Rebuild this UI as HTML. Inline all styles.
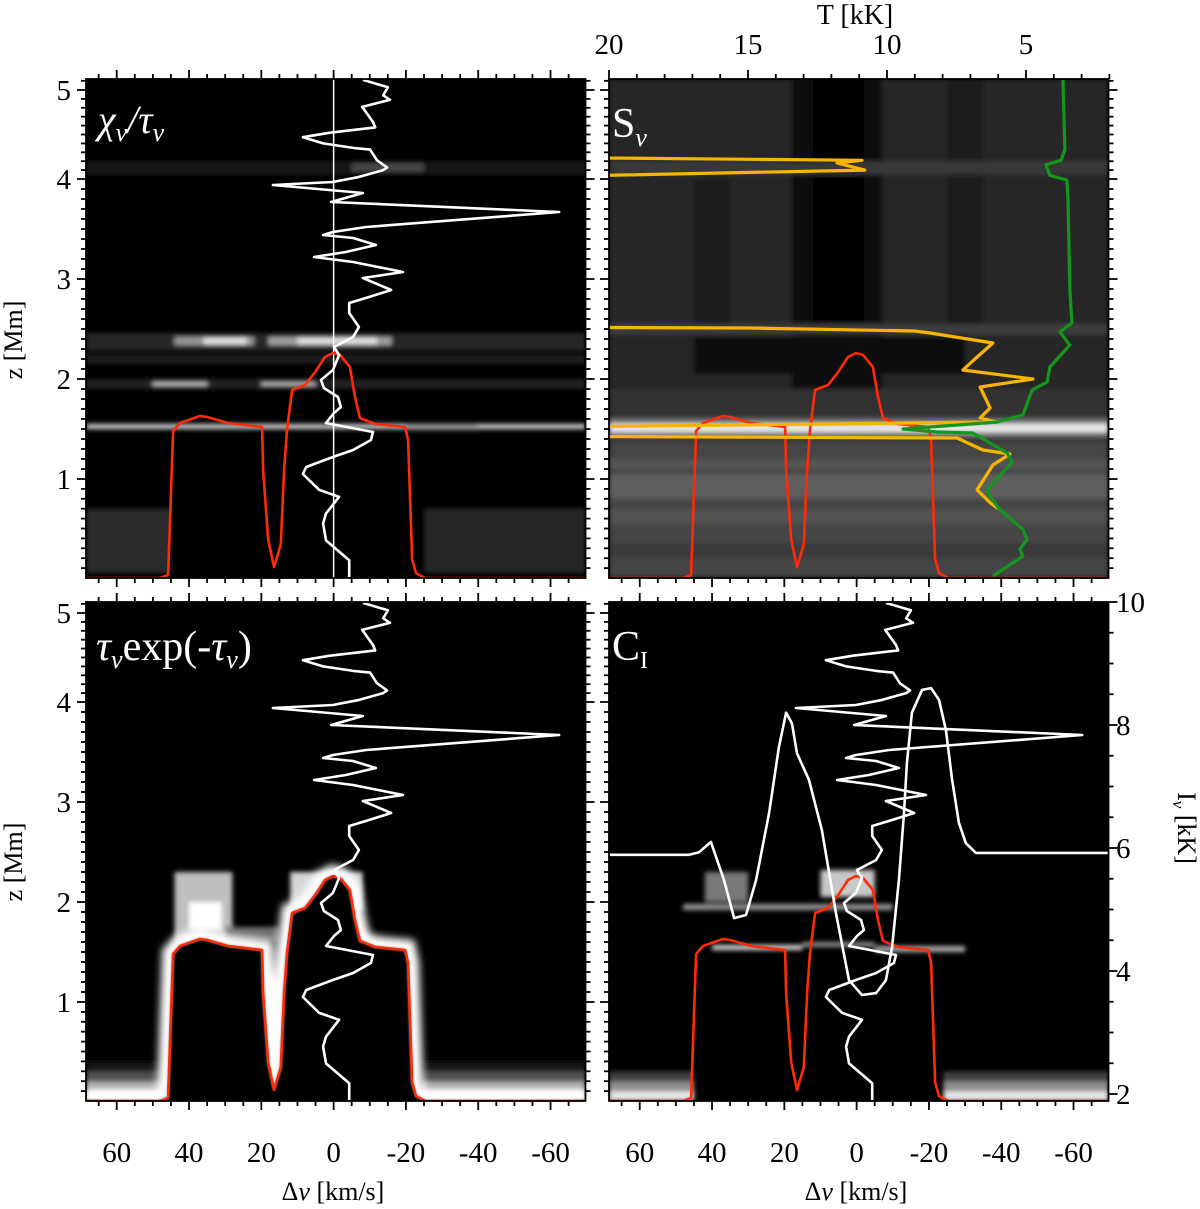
<!DOCTYPE html>
<html><head><meta charset="utf-8">
<style>
html,body{margin:0;padding:0;background:#fff;}
svg{display:block;font-family:"Liberation Serif","DejaVu Serif",serif;}
</style></head>
<body>
<svg id="fig" width="1200" height="1209" viewBox="0 0 1200 1209" xmlns="http://www.w3.org/2000/svg">
<defs>
<filter id="blur3" x="-5%" y="-5%" width="110%" height="110%"><feGaussianBlur stdDeviation="2.5"/></filter>
<filter id="blur5" x="-10%" y="-10%" width="120%" height="120%"><feGaussianBlur stdDeviation="4"/></filter>
<filter id="blur2"><feGaussianBlur stdDeviation="1.5"/></filter>
<clipPath id="clip-tl"><rect x="86" y="79" width="499.5" height="499"/></clipPath>
<clipPath id="clip-tr"><rect x="609" y="79" width="499.5" height="499"/></clipPath>
<clipPath id="clip-bl"><rect x="86" y="602" width="499.5" height="499"/></clipPath>
<clipPath id="clip-br"><rect x="609" y="602" width="499.5" height="499"/></clipPath>
</defs>
<g id="layer-heat"></g>
<g id="layer-lines"></g>
<g id="layer-axes"></g>
<text x="98" y="133" fill="#fff" font-size="40" font-style="italic">χ<tspan font-size="26" dy="8">ν</tspan><tspan dy="-8">/τ</tspan><tspan font-size="26" dy="8">ν</tspan></text>
<text x="612" y="137" fill="#fff" font-size="42">S<tspan font-size="26" font-style="italic" dy="9">ν</tspan></text>
<text x="96" y="660" fill="#fff" font-size="42"><tspan font-style="italic">τ</tspan><tspan font-size="26" font-style="italic" dy="8">ν</tspan><tspan dy="-8">exp(-</tspan><tspan font-style="italic">τ</tspan><tspan font-size="26" font-style="italic" dy="8">ν</tspan><tspan dy="-8">)</tspan></text>
<text x="612" y="660" fill="#fff" font-size="42">C<tspan font-size="24" dy="8">I</tspan></text>
<text x="855" y="24" font-size="28" text-anchor="middle">T [kK]</text>
<text x="333" y="1200" font-size="26" text-anchor="middle">Δ<tspan font-style="italic">ν</tspan> [km/s]</text>
<text x="856" y="1200" font-size="26" text-anchor="middle">Δ<tspan font-style="italic">ν</tspan> [km/s]</text>
<text transform="translate(22,340) rotate(-90)" font-size="26" text-anchor="middle">z [Mm]</text>
<text transform="translate(22,862) rotate(-90)" font-size="26" text-anchor="middle">z [Mm]</text>
<text transform="translate(1178,828) rotate(90)" font-size="26" text-anchor="middle">I<tspan font-size="17" font-style="italic" dy="5">ν</tspan><tspan dy="-5"> [kK]</tspan></text>
</svg>
<script>
// ---------------- data ----------------
const redDv = [68.5,48,45.8,44.4,42.5,37.0,35.0,29.2,19.8,19.5,18.1,16.5,14.6,13.7,12.9,11.5,7.9,5.1,2.4,0.2,-1.8,-4.5,-5.9,-7.3,-11.5,-19.8,-20.6,-21.7,-22.8,-25.3,-69.7];
const redZ  = [0,0,0.03,1.48,1.56,1.63,1.62,1.56,1.52,1.09,0.39,0.11,0.34,1.09,1.49,1.89,1.94,2.07,2.22,2.26,2.24,2.12,1.82,1.61,1.55,1.52,1.39,0.19,0.05,0,0];
const velDv = [-8.1,-15.0,-13.7,-15.6,-7.9,-10.9,-11.5,1.0,8.5,2.9,-5.4,-10.1,-12.0,-14.8,-13.7,-6.7,0.2,16.8,-8.1,0.7,-62.4,-9.0,0.2,2.9,-5.4,-11.7,-3.4,5.4,-5.4,-19.2,-8.1,-15.9,-9.8,-4.3,-4.3,-7.0,-5.4,-0.1,-1.5,0.2,3.5,2.7,-1.2,-2.0,-0.1,2.1,-10.9,-10.3,-5.4,0.2,7.6,8.5,4.0,-1.5,2.1,2.9,2.1,-4.3,-4.3];
const velZ  = [5.11,5.03,4.94,4.89,4.81,4.64,4.58,4.52,4.47,4.40,4.35,4.33,4.21,4.13,4.10,4.02,3.97,3.94,3.86,3.77,3.67,3.52,3.47,3.44,3.41,3.34,3.27,3.22,3.17,3.07,3.01,2.89,2.82,2.76,2.66,2.52,2.42,2.32,2.24,2.09,1.99,1.91,1.82,1.72,1.66,1.56,1.47,1.39,1.29,1.22,1.12,1.05,0.89,0.82,0.65,0.55,0.38,0.18,0.01];
const tempT = [3.67,3.60,3.74,4.28,4.14,3.53,3.49,3.42,3.35,3.78,3.42,4.14,4.24,4.78,5.11,6.04,7.48,9.42,8.20,6.91,5.68,5.50,6.40,6.29,5.94,5.11,4.96,5.22,5.11,6.19];
const tempZ = [5.11,4.33,4.21,4.16,4.04,3.99,3.79,2.89,2.56,2.47,2.34,2.12,1.97,1.89,1.64,1.57,1.54,1.50,1.47,1.46,1.26,1.17,0.89,0.82,0.69,0.49,0.39,0.29,0.22,0.02];
const srcT = [25,10.9,11.8,10.8,25,25,15,9,8.45,6.19,6.76,7.27,4.75,6.65,6.29,6.65,6.04,25,25,7.48,6.55,5.58,6.19,6.76,6.29,6.0];
const srcZ = [4.25,4.21,4.18,4.10,4.01,2.52,2.51,2.48,2.46,2.36,2.22,2.09,2.0,1.92,1.71,1.61,1.57,1.51,1.43,1.41,1.29,1.25,1.14,0.89,0.76,0.70];
const intDv = [68.5,46.3,43.6,40.3,36.7,33.9,30.6,27.8,24.2,21.5,19.5,17.9,16.5,13.2,9.6,5.7,2.1,-1.5,-5.4,-8.1,-9.8,-11.7,-13.1,-13.9,-15.3,-18.1,-20.6,-22.8,-24.7,-26.4,-28.3,-30.2,-33.0,-69.7];
const intI  = [5.89,5.89,5.93,6.10,5.48,4.86,4.91,5.48,6.57,7.64,8.20,8.03,7.54,7.11,6.29,4.94,3.85,3.61,3.64,3.85,4.39,5.48,6.57,7.38,8.20,8.57,8.60,8.41,7.92,7.11,6.41,6.08,5.92,5.92];
const cellsTL = [[68.5,-69.7,4.05,4.2,25],[-5,-25,4.08,4.18,70],[68.5,-69.7,2.28,2.46,38],[44,22,2.34,2.42,150],[36,24,2.35,2.41,230],[18,-16,2.34,2.42,160],[10,-12,2.35,2.41,230],[68.5,-69.7,2.15,2.25,30],[68.5,-69.7,1.9,2.0,35],[50,35,1.93,1.97,190],[20,5,1.93,1.97,180],[68.5,-69.7,1.5,1.55,210],[-20,-40,1.49,1.54,150],[68.5,45,0.05,0.7,42],[-25,-69.7,0.05,0.7,38]];
const cellsTR = [[68.5,-69.7,0,5.12,40],[18,-7,1.6,5.12,10],[12,-2,2.5,5.12,2],[-25,-35,2.5,5.12,28],[45,35,2.5,4.0,30],[45,-30,2.05,2.42,14],[68.5,-69.7,2.45,2.55,60],[68.5,-69.7,4.05,4.2,55],[68.5,-69.7,1.6,1.9,48],[68.5,-69.7,1.42,1.6,120],[68.5,-69.7,1.47,1.55,235],[68.5,-69.7,0,1.38,68],[68.5,-69.7,1.1,1.2,85],[68.5,-69.7,0.8,1.05,95],[68.5,-69.7,0.55,0.7,82],[68.5,-69.7,0.2,0.35,58]];
const cellsBL = [[68.5,45,0,0.1,255],[68.5,45,0.1,0.2,170],[68.5,45,0.2,0.3,80],[68.5,45,0.3,0.4,25],[-24,-69.7,0,0.1,255],[-24,-69.7,0.1,0.2,170],[-24,-69.7,0.2,0.3,80],[-24,-69.7,0.3,0.4,25],[44,28,1.6,2.3,190],[40,31,1.72,2.0,255],[12,-8,1.92,2.3,215],[30,15,1.6,1.75,110]];
const cellsBR = [[68.5,45,0,0.1,230],[68.5,45,0.1,0.2,140],[68.5,45,0.2,0.3,60],[-24,-69.7,0,0.1,230],[-24,-69.7,0.1,0.2,140],[-24,-69.7,0.2,0.3,60],[42,30,2.0,2.3,120],[10,-5,2.05,2.32,200],[48,-10,1.92,1.98,150],[40,15,1.52,1.57,220],[-5,-30,1.5,1.56,170],[15,-5,1.55,1.6,140]];
const dvMajor = [60,40,20,0,-20,-40,-60];
const zMajor = [1,2,3,4,5];
const tMajor = [20,15,10,5];
const iMajor = [10,8,6,4,2];

// ---------------- scales ----------------
const ZK=[0,1,2,3,4,5,5.12], YK=[578,479,379,279,179,90,79];
function zy(z){ for(let i=0;i<ZK.length-1;i++){ if(z<=ZK[i+1]||i===ZK.length-2){ const f=(z-ZK[i])/(ZK[i+1]-ZK[i]); return YK[i]+f*(YK[i+1]-YK[i]); } } }
const panels = { tl:{x0:86,yoff:0}, tr:{x0:609,yoff:0}, bl:{x0:86,yoff:523}, br:{x0:609,yoff:523} };
function xOf(v,p){ return p.x0 + (68.5 - v)*3.615; }
function yOf(z,p){ return zy(z) + p.yoff; }
function tx(T){ return 609 + (20 - T)*27.8; }
function iy(I){ return 602 + (10 - I)*61.5; }

const NS='http://www.w3.org/2000/svg';
function mk(tag, attrs, parent){ const e=document.createElementNS(NS,tag); for(const k in attrs) e.setAttribute(k,attrs[k]); parent.appendChild(e); return e; }
const heat=document.getElementById('layer-heat');
const lines=document.getElementById('layer-lines');
const axes=document.getElementById('layer-axes');

function drawCells(key, cells){
  const p=panels[key];
  const g=mk('g',{'clip-path':'url(#clip-'+key+')'},heat);
  
  
  const bg=mk('rect',{x:p.x0,y:79+p.yoff,width:499.5,height:499,fill:'#000'},g);
  
  
  const inner=mk('g',{filter:'url(#blur3)'},g);
  cells.forEach(c=>{
    const xa=xOf(c[0],p), xb=xOf(c[1],p), ya=yOf(c[3],p), yb=yOf(c[2],p);
    const r=mk('rect',{x:Math.min(xa,xb),y:ya,width:Math.abs(xb-xa),height:yb-ya,fill:'rgb('+c[4]+','+c[4]+','+c[4]+')'},inner);
    
    
  });
  return g;
}
drawCells('tl',cellsTL);
drawCells('tr',cellsTR);
const gbl=drawCells('bl',cellsBL);
drawCells('br',cellsBR);

(function(){
  const p=panels.bl;
  const pts=redDv.map((v,i)=>xOf(v,p).toFixed(1)+','+yOf(redZ[i],p).toFixed(1));
  const glow=mk('polyline',{points:pts.join(' '),fill:'none',stroke:'#fff','stroke-width':22,filter:'url(#blur5)'},gbl);
  
  
  const inside=mk('polygon',{points:pts.join(' ')+' '+xOf(-69.7,p)+','+(p.yoff+600)+' '+xOf(68.5,p)+','+(p.yoff+600),fill:'#000',filter:'url(#blur2)'},gbl);
  
  
})();

function poly(key, xs, ys, color, width, name){
  const g=mk('g',{'clip-path':'url(#clip-'+key+')'},lines);
  
  
  const pts=xs.map((x,i)=>x.toFixed(1)+','+ys[i].toFixed(1)).join(' ');
  const l=mk('polyline',{points:pts,fill:'none',stroke:color,'stroke-width':width,'stroke-linejoin':'round'},g);
  
  
}
(function(){
  const p=panels.tl;
  const l=mk('line',{x1:xOf(0,p),x2:xOf(0,p),y1:79,y2:578,stroke:'#fff','stroke-width':1.5},lines);
  
  
})();
['tl','tr','bl','br'].forEach(k=>{
  const p=panels[k];
  poly(k, redDv.map(v=>xOf(v,p)), redZ.map(z=>yOf(z,p)), '#ff2a0a', 2.6, 'tau-unity-curve-'+k);
});
['tl','bl','br'].forEach(k=>{
  const p=panels[k];
  poly(k, velDv.map(v=>xOf(v,p)), velZ.map(z=>yOf(z,p)), '#fff', 2.6, 'velocity-curve-'+k);
});
poly('tr', srcT.map(tx), srcZ.map(z=>yOf(z,panels.tr)), '#f7b500', 3.2, 'source-function-curve');
poly('tr', tempT.map(tx), tempZ.map(z=>yOf(z,panels.tr)), '#14961e', 3.2, 'temperature-curve');
poly('br', intDv.map(v=>xOf(v,panels.br)), intI.map(iy), '#fff', 2.6, 'intensity-profile');

function tick(x1,y1,x2,y2,name){
  const l=mk('line',{x1:x1,y1:y1,x2:x2,y2:y2,stroke:'#000','stroke-width':1.8},axes);
  
  
}
function label(x,y,txt,anchor,name){
  const t=mk('text',{x:x,y:y,'font-size':29,'text-anchor':anchor},axes);
  t.textContent=txt;
  
  
}
Object.keys(panels).forEach(k=>{
  const p=panels[k];
  const yt=79+p.yoff, yb=578+p.yoff, xl=p.x0, xr=p.x0+499.5;
  const fr=mk('rect',{x:xl,y:yt,width:499.5,height:yb-yt,fill:'none',stroke:'#000','stroke-width':1.8},axes);
  
  
  for(let v=65; v>=-65; v-=5){
    const x=xOf(v,p), major=dvMajor.indexOf(v)>=0, L=major?9:5;
    tick(x,yb,x,yb+L,'x-tick');
    if(k!=='tr') tick(x,yt,x,yt-L,'x-tick-top');
  }
  if(k==='bl'||k==='br') dvMajor.forEach(v=>label(xOf(v,p),1162,String(v),'middle','x-tick-label'));
  for(let i=1;i<=51;i++){
    const z=i/10; const y=yOf(z,p); const major=(i%10===0); const L=major?9:5;
    tick(xl,y,xl-L,y,'z-tick');
    if(k!=='br') tick(xr,y,xr+L,y,'z-tick-right');
  }
  if(k==='tl'||k==='bl') zMajor.forEach(z=>label(71,yOf(z,p)+10,String(z),'end','z-tick-label'));
});
for(let T=20; T>=2; T--){
  const major=tMajor.indexOf(T)>=0; tick(tx(T),79,tx(T),79-(major?9:5),'temperature-tick');
}
tMajor.forEach(T=>label(tx(T),54,String(T),'middle','temperature-tick-label'));
for(let I=10; I>=2; I-=0.5){
  const major=iMajor.indexOf(I)>=0; tick(1108.5,iy(I),1108.5+(major?9:5),iy(I),'intensity-tick');
}
iMajor.forEach(I=>label(1116,iy(I)+10,String(I),'start','intensity-tick-label'));
</script>
</body></html>
